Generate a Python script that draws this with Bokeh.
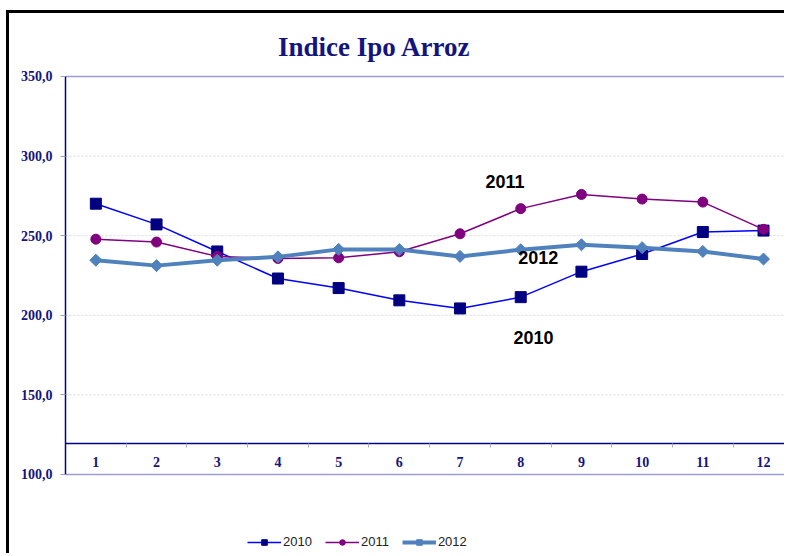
import math
from bokeh.plotting import figure
from bokeh.models import Range1d, FixedTicker, Label, Legend, LegendItem
from bokeh.embed import file_html
from bokeh.resources import INLINE

# ---- data ----
months = list(range(1, 13))
s2010 = [270.1, 257.1, 240.1, 223.1, 217.1, 209.4, 204.3, 211.4, 227.4, 238.5, 252.3, 253.2]
s2011 = [247.8, 246.0, 237.0, 235.7, 236.1, 239.9, 251.2, 267.0, 275.9, 273.0, 271.1, 254.0]
s2012 = [234.6, 231.2, 234.6, 236.7, 241.4, 241.3, 237.0, 241.2, 244.3, 242.5, 240.1, 235.3]
series_names = ["2010", "2011", "2012"]
y_ticks = [100, 150, 200, 250, 300, 350]
y_tick_labels = ["100,0", "150,0", "200,0", "250,0", "300,0", "350,0"]
x_tick_labels = [str(m) for m in months]
title_text = "Indice Ipo Arroz"

NAVY = "#14147E"

# plot area spans the canvas; axes are placed inside it
x_lo, x_hi = 0.5, 12.5          # category band limits
y_lo, y_hi = 100, 350           # value axis limits
x_cross = 119.3                 # value where the category axis crosses

p = figure(width=778, height=543, output_backend="svg", toolbar_location=None,
           x_range=Range1d(-0.4226, 12.395), y_range=Range1d(48.49, 389.57),
           min_border=0, min_border_left=0, min_border_right=0,
           min_border_top=0, min_border_bottom=0)
p.outline_line_color = None
p.background_fill_color = "white"
p.border_fill_color = "white"
p.styles = {"margin-left": "6px", "margin-top": "10px",
            "border-left": "3px solid black", "border-top": "3px solid black"}
p.xgrid.visible = False
p.ygrid.visible = False

# horizontal reference lines
inner = y_ticks[1:-1]
edges = [y_ticks[0], y_ticks[-1]]
p.segment(x0=[x_lo] * len(inner), x1=[x_hi] * len(inner), y0=inner, y1=inner,
          line_color="#D9D9D9", line_width=1, line_dash="2 2")
p.segment(x0=[x_lo] * len(edges), x1=[x_hi] * len(edges), y0=edges, y1=edges,
          line_color="#9C9CD8", line_width=1.5)

# y axis
yax = p.yaxis[0]
yax.fixed_location = x_lo
yax.bounds = (y_lo, y_hi)
yax.ticker = FixedTicker(ticks=y_ticks)
yax.major_label_overrides = {t: l for t, l in zip(y_ticks, y_tick_labels)}
yax.major_label_text_font = "Liberation Serif"
yax.major_label_text_font_style = "bold"
yax.major_label_text_font_size = "14px"
yax.major_label_text_color = NAVY
yax.axis_line_color = "#000080"
yax.axis_line_width = 1.5
yax.major_tick_in = 0
yax.major_tick_out = 5
yax.major_tick_line_color = "#9C9CD8"
yax.minor_tick_line_color = None
yax.major_label_standoff = 8

# x axis crossing near 120
xax = p.xaxis[0]
xax.fixed_location = x_cross
xax.bounds = (x_lo, x_hi)
xax.ticker = FixedTicker(ticks=months, minor_ticks=[m - 0.5 for m in months] + [12.5])
xax.major_label_overrides = {m: l for m, l in zip(months, x_tick_labels)}
xax.major_label_text_font = "Liberation Serif"
xax.major_label_text_font_style = "bold"
xax.major_label_text_font_size = "14px"
xax.major_label_text_color = NAVY
xax.axis_line_color = "#000080"
xax.axis_line_width = 1.5
xax.major_tick_line_color = None
xax.major_tick_in = 0
xax.major_tick_out = 0
xax.minor_tick_in = 0
xax.minor_tick_out = 4
xax.minor_tick_line_color = "#AAAACC"
xax.major_label_standoff = 9

# series
l10 = p.line(months, s2010, line_color="#0000FF", line_width=1.5)
m10 = p.scatter(months, s2010, marker="square", size=11, fill_color="#000080", line_color="#000080")
l11 = p.line(months, s2011, line_color="#800080", line_width=1.5)
m11 = p.scatter(months, s2011, marker="circle", size=10, fill_color="#800080", line_color="#800080")
l12 = p.line(months, s2012, line_color="#4F81BD", line_width=4)
m12 = p.scatter(months, s2012, marker="square", size=8.5, angle=math.pi / 4,
                fill_color="#4F81BD", line_color="#4F81BD")

legend = Legend(items=[LegendItem(label=series_names[0], renderers=[l10, m10]),
                       LegendItem(label=series_names[1], renderers=[l11, m11]),
                       LegendItem(label=series_names[2], renderers=[l12, m12])],
                orientation="horizontal", location=(238, 7),
                border_line_color=None, background_fill_alpha=0,
                glyph_width=34, glyph_height=14, label_standoff=2, spacing=13,
                padding=0, margin=0,
                label_text_font="Liberation Sans", label_text_font_size="13px",
                label_text_color="#222222")
p.add_layout(legend)

# title
p.add_layout(Label(x=5.59, y=368.8, text=title_text, text_font="Liberation Serif",
                   text_font_style="bold", text_font_size="27px", text_color=NAVY,
                   text_align="center", text_baseline="alphabetic"))

# series annotations
ann_x = [7.88, 7.42, 7.96]
ann_y = [186.2, 284.2, 236.5]
for name, ax_, ay_ in zip(series_names, ann_x, ann_y):
    p.add_layout(Label(x=ax_, y=ay_, text=name, text_font="Liberation Sans",
                       text_font_style="bold", text_font_size="18px", text_color="black",
                       text_align="left", text_baseline="middle"))

open("out.html", "w").write(file_html(p, INLINE))
